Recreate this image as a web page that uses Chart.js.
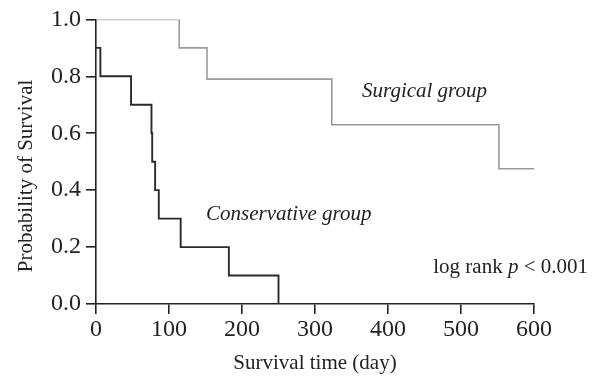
<!DOCTYPE html>
<html>
<head>
<meta charset="utf-8">
<script src="https://cdn.jsdelivr.net/npm/chart.js@4"></script>
<style>
  html, body { margin: 0; padding: 0; background: #fff; }
  #wrap { width: 597px; height: 376px; }
</style>
</head>
<body>
<div id="wrap"><canvas id="kmChart" width="597" height="376"></canvas></div>
<script>
// Kaplan-Meier step points (day, survival)
const surgicalDays = [0, 114, 152, 323, 552, 600];
const surgicalSurv = [1.0, 0.9, 0.79, 0.63, 0.475, 0.475];

const conservDays = [0, 6, 48, 76, 77, 81, 86, 116, 182, 250];
const conservSurv = [0.9, 0.8, 0.7, 0.6, 0.5, 0.4, 0.3, 0.2, 0.1, 0.0];

const xTicks = [0, 100, 200, 300, 400, 500, 600];
const yLabels = ['0.0', '0.2', '0.4', '0.6', '0.8', '1.0'];

const serif = '"Liberation Serif", "Times New Roman", serif';
const axisColor = '#222';
const noteSize = 21;

const toPoints = (xs, ys) => xs.map((x, i) => ({ x: x, y: ys[i] }));

// annotation texts placed by data coords
const annotations = {
  id: 'annotations',
  afterDatasetsDraw(chart) {
    const { ctx, scales: { x, y } } = chart;
    ctx.save();
    ctx.fillStyle = '#222';
    ctx.textBaseline = 'middle';
    ctx.font = 'italic ' + noteSize + 'px ' + serif;
    ctx.textAlign = 'center';
    ctx.fillText('Surgical group', x.getPixelForValue(450), y.getPixelForValue(0.745));
    ctx.fillText('Conservative group', x.getPixelForValue(264), y.getPixelForValue(0.315));

    // log rank p < 0.001, right aligned
    const right = x.getPixelForValue(674);
    const yy = y.getPixelForValue(0.128);
    const up = noteSize + 'px ' + serif, it = 'italic ' + noteSize + 'px ' + serif;
    ctx.textAlign = 'left';
    ctx.font = up;
    const a = 'log rank ', c = ' < 0.001';
    const wa = ctx.measureText(a).width, wc = ctx.measureText(c).width;
    ctx.font = it;
    const wb = ctx.measureText('p').width;
    let cx = right - wa - wb - wc;
    ctx.font = up;
    ctx.fillText(a, cx, yy);
    cx += wa;
    ctx.font = it;
    ctx.fillText('p', cx, yy);
    cx += wb;
    ctx.font = up;
    ctx.fillText(c, cx, yy);

    // y axis title, sits a bit below the middle like the original
    ctx.translate(26, y.getPixelForValue(0.45));
    ctx.rotate(-Math.PI / 2);
    ctx.textAlign = 'center';
    ctx.font = up;
    ctx.fillText('Probability of Survival', 0, 0);
    ctx.restore();
  }
};

new Chart(document.getElementById('kmChart'), {
  type: 'line',
  data: {
    datasets: [
      {
        label: 'Surgical group',
        data: toPoints(surgicalDays, surgicalSurv),
        borderColor: '#9a9a9a',
        borderWidth: 1.6,
        stepped: 'before',
        pointRadius: 0,
        fill: false,
      },
      {
        label: 'Conservative group',
        data: toPoints(conservDays, conservSurv),
        borderColor: '#2a2a2a',
        borderWidth: 1.9,
        stepped: 'before',
        pointRadius: 0,
        fill: false,
      },
    ],
  },
  options: {
    responsive: false,
    animation: false,
    layout: { padding: { left: 0, right: 63, top: 17, bottom: 0 } },
    plugins: {
      legend: { display: false },
      tooltip: { enabled: false },
    },
    scales: {
      x: {
        type: 'linear',
        min: 0,
        max: 600,
        afterBuildTicks: (axis) => { axis.ticks = xTicks.map(v => ({ value: v })); },
        afterFit: (axis) => { axis.height = 72; },
        border: { display: true, color: axisColor, width: 1.6 },
        grid: { drawOnChartArea: false, drawTicks: true, tickLength: 10, color: axisColor, lineWidth: 1.6 },
        ticks: { color: '#222', font: { family: serif, size: 24 }, padding: 1, maxRotation: 0 },
        title: { display: true, text: 'Survival time (day)', color: '#222', font: { family: serif, size: 21 }, padding: { top: 0, bottom: 0 } },
      },
      y: {
        min: 0,
        max: 1,
        afterFit: (axis) => { axis.width = 96; },
        border: { display: true, color: axisColor, width: 1.6 },
        grid: { drawOnChartArea: false, drawTicks: true, tickLength: 10, color: axisColor, lineWidth: 1.6 },
        ticks: {
          stepSize: 0.1,
          color: '#222',
          font: { family: serif, size: 24 },
          padding: 5,
          callback: (v) => {
            const k = Math.round(v * 10);
            return k % 2 === 0 ? yLabels[k / 2] : '';
          },
        },
        title: { display: false },
      },
    },
  },
  plugins: [annotations],
});
</script>
</body>
</html>
